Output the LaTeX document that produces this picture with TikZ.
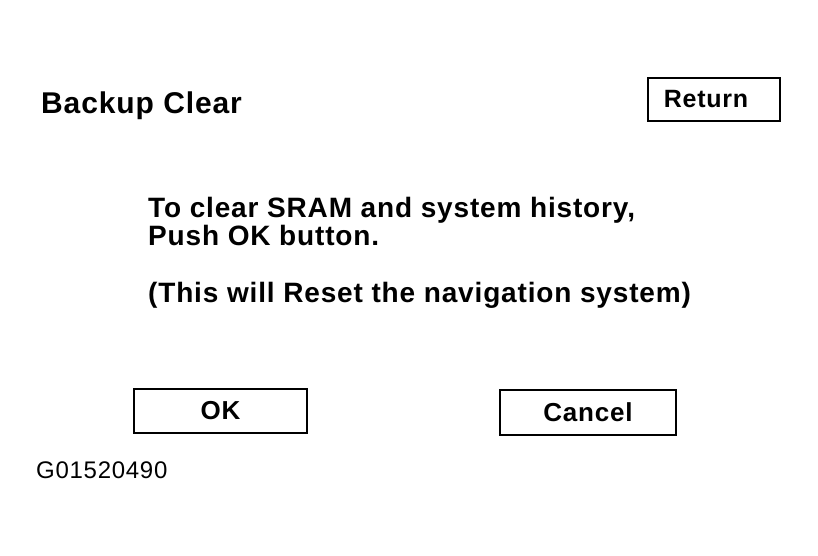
\documentclass[tikz,border=0pt]{standalone}
\usepackage{fontspec}
\setmainfont{Liberation Sans}
\newfontfamily\screenfont[LetterSpace=3]{Liberation Sans}
\usetikzlibrary{positioning}

\begin{document}
\begin{tikzpicture}[x=1pt,y=-1pt,
  label/.style={anchor=base west,inner sep=0pt,align=left,font=\screenfont\bfseries\fontsize{28}{25}\selectfont},
  button/.style={draw,line width=1.4pt,inner sep=0pt,font=\screenfont\bfseries\fontsize{26}{26}\selectfont}]

\def\width{818}
\def\height{555}
\def\tx{148}

\path [use as bounding box] (0,0) rectangle (\width,\height);

% TITLE
\node [label,font=\screenfont\bfseries\fontsize{30}{30}\selectfont] (title) at (41,113) {Backup Clear};
\node [button,minimum width=132pt,minimum height=43pt] (return) at (714,99.5) {};
\node [button,draw=none,font=\screenfont\bfseries\fontsize{25}{25}\selectfont] (returntext) at ([xshift=-8pt]return.center) {Return};

% MESSAGE
\node [label] (msgA) at (\tx,245) {To clear SRAM and system history,\\Push OK button.};
\node [label] (msgC) at (\tx,302) {(This will Reset the navigation system)};

% BUTTONS
\node [button,minimum width=173pt,minimum height=44pt] (ok) at (220.5,411) {OK};
\node [button,minimum width=176pt,minimum height=45pt] (cancel) at (588,412.5) {Cancel};

% FIGURE NUMBER
\node [anchor=base west,inner sep=0pt,font=\screenfont\fontsize{24}{24}\selectfont] (fig) at (36,478) {G01520490};

\end{tikzpicture}
\end{document}
